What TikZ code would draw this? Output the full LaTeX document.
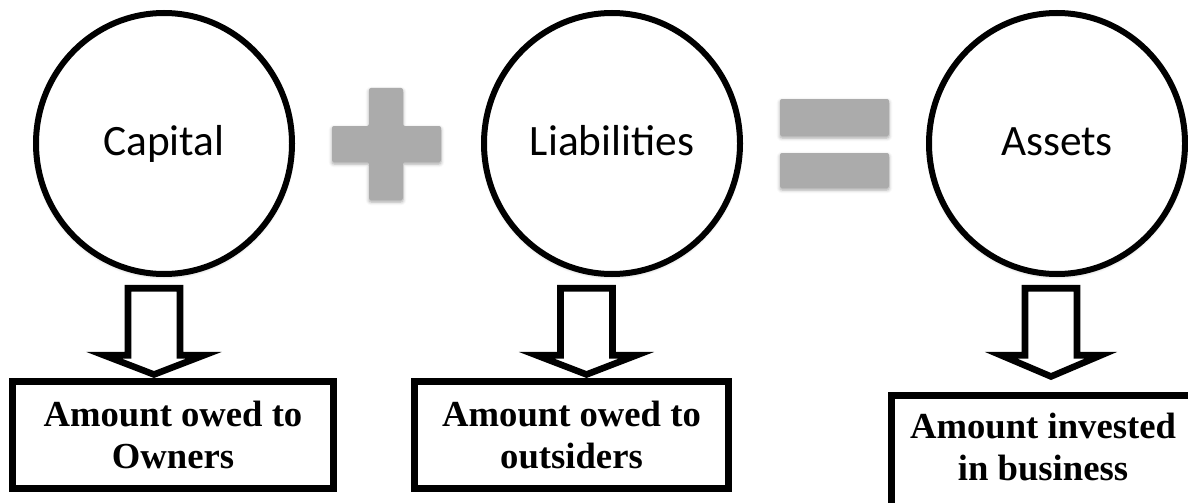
\documentclass[tikz,border=0pt]{standalone}
\usepackage{fontspec}
\setmainfont{Liberation Serif}
\newfontfamily\circfont{Carlito}
\usetikzlibrary{shapes.geometric,calc,shadows.blur}

\definecolor{signgray}{HTML}{ABABAB}

\tikzset{
  softshadow/.style={blur shadow={shadow xshift=0pt, shadow yshift=-1.5pt,
      shadow blur radius=2.5pt, shadow opacity=35}},
  termcircle/.style={ellipse, draw=black, line width=4.5pt, fill=white,
      minimum width=192pt, minimum height=195.75pt, inner sep=0pt,
      font=\circfont\fontsize{32.5}{39}\selectfont,
      text height=22.75pt, text depth=5.5pt, softshadow},
  boxtext/.style={inner sep=0pt, align=center,
      font=\bfseries\fontsize{27.5}{32}\selectfont},
  boxedge/.style={draw=black, line width=5.25pt},
  resultbox/.style={rectangle, boxedge, fill=white, boxtext},
  blockarrow/.style={draw=black, fill=white, line width=4.9pt,
      line join=miter, miter limit=12},
  signbar/.style={fill=signgray, rounded corners=1.5pt, softshadow}
}

% hollow downward block arrow: #1 top centre of the shaft, #2 tip, #3 head depth
\newcommand\blockdown[3]{%
  \draw[blockarrow] ($(#1)+(-26,0)$) -- ($(#1)+(26,0)$)
    -- ($(#2)+(26,-#3)$) -- ($(#2)+(50,-#3)$) -- (#2)
    -- ($(#2)+(-50,-#3)$) -- ($(#2)+(-26,-#3)$) -- cycle;}

\begin{document}
\begin{tikzpicture}[x=0.75pt, y=-0.75pt]
\useasboundingbox (0,0) rectangle (1188,503);
\clip (0,0) rectangle (1188,503);

% the three terms of the equation
\node[termcircle] (capital) at (164,143.5) {Capital};
\node[termcircle] (liab)    at (612,143.5) {Liabilities};
\node[termcircle] (assets)  at (1057,143.5) {Assets};

% plus sign
\path[signbar] (369,88) -- (403,88) -- (403,126) -- (441,126) -- (441,162)
  -- (403,162) -- (403,200) -- (369,200) -- (369,162) -- (332,162)
  -- (332,126) -- (369,126) -- cycle;

% equals sign
\path[signbar] (780,99) rectangle (889,136);
\path[signbar] (780,153) rectangle (889,188);

% explanations
\node[resultbox, minimum width=240.75pt, minimum height=80.25pt] (owners)
  at (173,435) {Amount owed to\\Owners};
\node[resultbox, minimum width=235.5pt, minimum height=80.25pt] (outsiders)
  at (571.5,435) {Amount owed to\\outsiders};
% this box runs past the right and bottom edges: only its top and left show
\node[rectangle, minimum width=253.9pt, minimum height=95pt, inner sep=0pt]
  (business) at (1060.75,458.83) {};
\draw[boxedge] (business.north east) -- (business.north west)
  -- (business.south west);
\node[boxtext] (businesstext) at (1043,447) {Amount invested\\in business};

% block arrows from each term down to its explanation
\coordinate (captop) at (154,288.25);
\coordinate (captip) at ($(owners.north)+(-19,-3.5)$);
\coordinate (liabtop) at (586.5,288.25);
\coordinate (liabtip) at ($(outsiders.north)+(15,-3.5)$);
\coordinate (assettop) at (1051,288.25);
\coordinate (assettip) at (1051,376.5);

\blockdown{captop}{captip}{19.25}
\blockdown{liabtop}{liabtip}{19.25}
\blockdown{assettop}{assettip}{21.25}
\end{tikzpicture}
\end{document}
